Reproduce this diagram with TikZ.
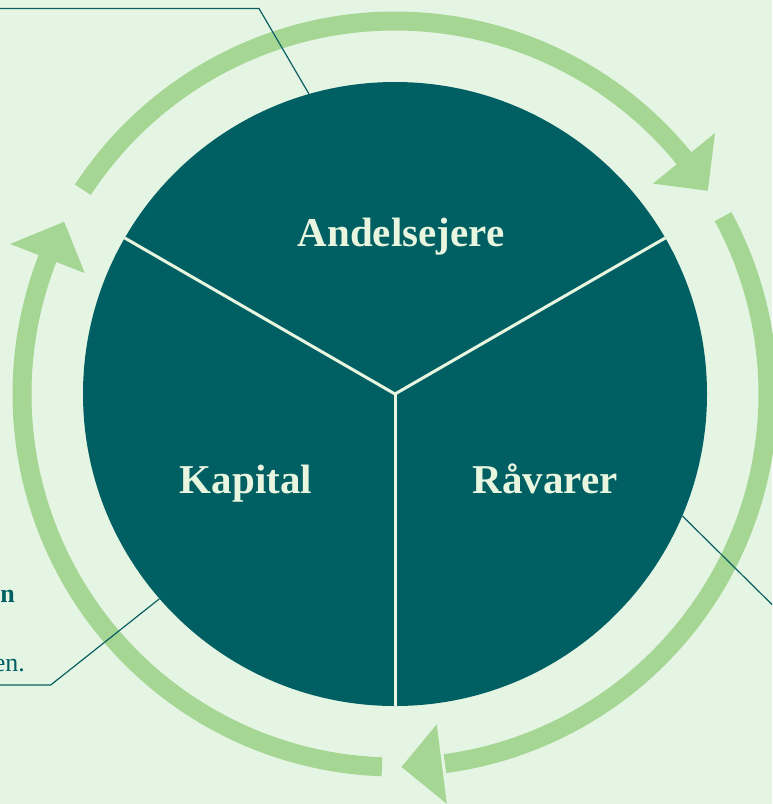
\documentclass[tikz,border=0pt]{standalone}
\usepackage{fontspec}
\setmainfont{Liberation Serif}
\definecolor{bg}{HTML}{E5F5E3}
\definecolor{teal}{HTML}{005F63}
\definecolor{ringgreen}{HTML}{A5D693}
\definecolor{cream}{HTML}{E8F6E0}
\definecolor{leader}{HTML}{0B5F63}
\tikzset{
  ringarc/.style={draw=ringgreen, line width=19pt},
  ringhead/.style={fill=ringgreen, draw=none},
  divider/.style={draw=cream, line width=3pt},
  leaderline/.style={draw=leader, line width=1.2pt},
  seglabel/.style={text=cream, font=\fontsize{41}{44}\selectfont\bfseries, anchor=base, inner sep=0pt},
  fragbold/.style={text=teal, font=\fontsize{26}{30}\selectfont\bfseries, anchor=base east, inner sep=0pt},
  fragreg/.style={text=teal, font=\fontsize{26}{30}\selectfont, anchor=base east, inner sep=0pt},
}
\begin{document}
\begin{tikzpicture}[x=1pt,y=1pt]
\fill[bg] (0,0) rectangle (772,-804);
\useasboundingbox (0,0) rectangle (772,-804);
% main circle
\node[circle, fill=teal, minimum size=624pt, inner sep=0pt, draw=none] (disc) at (395,-394) {};
\coordinate (ctr) at (395,-394);
% dividers
\draw[divider] (ctr) -- (disc.150);
\draw[divider] (ctr) -- (disc.30);
\draw[divider] (ctr) -- (disc.270);
% ring arcs with arrowheads
\begin{scope}[shift={(395,-394)}]
  % top arc
  \draw[ringarc] (146.8:373) arc[start angle=146.8, end angle=38.7, radius=373];
  \fill[ringhead] (33:373) -- (39.2:413) -- (39.2:333) -- cycle;
  % right arc
  \draw[ringarc] (28.4:373) arc[start angle=28.4, end angle=-82.3, radius=373];
  \fill[ringhead] (-89:373) -- (-82.8:413) -- (-82.8:333) -- cycle;
  % left arc
  \draw[ringarc] (268:373) arc[start angle=268, end angle=158.2, radius=373];
  \fill[ringhead] (152.5:373) -- (158.7:413) -- (158.7:333) -- cycle;
\end{scope}
% labels
\node[seglabel] (andel) at (401,-246.7) {Andelsejere};
\node[seglabel] (kapital) at (246,-493) {Kapital};
\node[seglabel] (ravarer) at (545,-493) {Råvarer};
% leader lines
\coordinate (topfree) at (0,-8.5);
\coordinate (topbend) at (259,-8.5);
\draw[leaderline] (topfree) -- (topbend) -- (disc.106.2);
\coordinate (blfree) at (0,-685);
\coordinate (blbend) at (50.7,-685);
\draw[leaderline] (blfree) -- (blbend) -- (disc.221.3);
\coordinate (rfree) at (772,-604.5);
\draw[leaderline] (disc.-23.7) -- (rfree);
% cut-off text fragments
\node[fragbold] (fragn) at (15,-602) {n};
\node[fragreg] (fragen) at (25,-671.7) {en.};
\end{tikzpicture}
\end{document}
